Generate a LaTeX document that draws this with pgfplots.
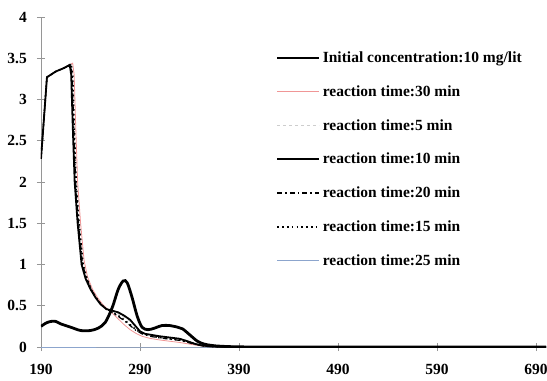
\documentclass[border=0pt]{standalone}
\usepackage{fontspec}
\setmainfont{Liberation Serif}
\usepackage{pgfplots}
\pgfplotsset{compat=1.18}
\definecolor{pinkline}{RGB}{240,150,150}
\definecolor{lightline}{RGB}{205,205,205}
\definecolor{blueline}{RGB}{140,165,205}
\definecolor{axgray}{RGB}{150,150,150}
\begin{document}
\begin{tikzpicture}
\begin{axis}[name=ax, scale only axis, width=505pt, height=330pt,
  xmin=190, xmax=700, ymin=0, ymax=4,
  xtick={190,290,390,490,590,690},
  ytick={0,0.5,1,1.5,2,2.5,3,3.5,4},
  yticklabels={0,0.5,1,1.5,2,2.5,3,3.5,4},
  axis x line=bottom, axis y line=left,
  axis line style={axgray, line width=0.8pt, -},
  tick align=center, major tick length=8pt,
  tick style={axgray, line width=0.8pt},
  /pgf/number format/assume math mode=true,
  ticklabel style={font=\fontsize{15.5}{18}\selectfont\bfseries},
  yticklabel style={inner sep=0pt, xshift=-10pt},
  xticklabel style={inner sep=0pt, text depth=0pt, yshift=-13pt},
  legend image code/.code={\draw[#1] (0pt,0pt) -- (42pt,0pt);},
  legend cell align=left,
  legend style={at={(0.465,0.898)}, anchor=north west, draw=none, fill=none,
    inner sep=0pt, row sep=19.5pt,
    font=\fontsize{15.5}{18}\selectfont\bfseries,
    nodes={inner xsep=2pt, inner ysep=1pt}},
]
\addlegendimage{black, line width=2.8pt}
\addlegendentry{Initial concentration:10 mg/lit}
\addlegendimage{pinkline, line width=0.8pt}
\addlegendentry{reaction time:30 min}
\addlegendimage{lightline, line width=0.8pt, dashed}
\addlegendentry{reaction time:5 min}
\addlegendimage{black, line width=1.8pt}
\addlegendentry{reaction time:10 min}
\addlegendimage{black, line width=1.2pt, dash pattern=on 5pt off 3pt on 1.5pt off 3pt}
\addlegendentry{reaction time:20 min}
\addlegendimage{black, line width=1.6pt, dash pattern=on 1.6pt off 3.2pt}
\addlegendentry{reaction time:15 min}
\addlegendimage{blueline, line width=1pt}
\addlegendentry{reaction time:25 min}

% 25 min
\addplot[forget plot, blueline, line width=1pt] coordinates {
(190,0) (300,0) (400,0) (700,0)};
% 5 min
\addplot[forget plot, lightline, line width=0.8pt, dashed] coordinates {
(190,2.28) (196,3.27) (205,3.34) (213,3.38) (219.5,3.42) (221,3.3) (222.5,2.7)
(224.5,2.0) (227.5,1.5) (231.5,1.0) (235.5,0.83) (240,0.70) (245,0.60) (250,0.52)
(256,0.46) (262,0.43) (268,0.40) (274,0.36) (280,0.31) (286,0.24) (292,0.18)
(300,0.145) (310,0.125) (320,0.11) (330,0.095) (338,0.065) (345,0.035) (352,0.018)
(360,0.007) (375,0.002) (400,0) (700,0)};
% 30 min
\addplot[forget plot, pinkline, line width=0.8pt] coordinates {
(190,2.28) (196,3.27) (205,3.34) (214,3.39) (222,3.44) (223.5,3.3) (225,2.7)
(227,2.0) (230,1.5) (233.5,1.05) (237,0.85) (242,0.70) (247,0.60) (252,0.52)
(257,0.46) (262,0.41) (268,0.34) (274,0.27) (280,0.21) (286,0.165) (292,0.13)
(300,0.105) (310,0.085) (320,0.07) (330,0.055) (340,0.035) (350,0.016) (360,0.005)
(380,0) (700,0)};
% 20 min
\addplot[forget plot, black, line width=1.2pt, dash pattern=on 5pt off 3pt on 1.5pt off 3pt] coordinates {
(190,2.28) (196,3.27) (205,3.34) (213,3.38) (220,3.42) (221.5,3.3) (223,2.7)
(225,2.0) (228,1.5) (232,1.0) (236,0.83) (241,0.69) (246,0.59) (251,0.51)
(256,0.46) (262,0.42) (268,0.37) (274,0.32) (280,0.26) (286,0.20) (292,0.16)
(300,0.13) (310,0.11) (320,0.095) (330,0.08) (340,0.05) (348,0.025) (356,0.01)
(370,0.002) (400,0) (700,0)};
% 15 min
\addplot[forget plot, black, line width=1.6pt, dash pattern=on 1.6pt off 3.2pt] coordinates {
(190,2.28) (196,3.27) (205,3.34) (213,3.38) (220.5,3.42) (222,3.3) (223.5,2.7)
(225.5,2.0) (228.5,1.5) (232.5,1.0) (236.5,0.83) (241,0.69) (246,0.59) (251,0.51)
(256,0.46) (262,0.42) (268,0.38) (274,0.33) (280,0.27) (286,0.21) (292,0.165)
(300,0.135) (310,0.115) (320,0.10) (330,0.085) (340,0.055) (348,0.028) (356,0.011)
(370,0.002) (400,0) (700,0)};
% 10 min
\addplot[forget plot, black, line width=1.8pt] coordinates {
(190,2.28) (196,3.27) (205,3.34) (213,3.38) (219,3.42) (220.5,3.3) (222,2.7)
(224,2.0) (227,1.5) (231,1.0) (235,0.83) (240,0.70) (245,0.60) (250,0.52)
(256,0.46) (262,0.44) (268,0.42) (274,0.38) (280,0.33) (285,0.26) (290,0.19)
(295,0.16) (300,0.15) (310,0.13) (320,0.115) (330,0.10) (338,0.07) (345,0.04)
(352,0.02) (360,0.008) (375,0.002) (400,0) (700,0)};
% initial concentration
\addplot[forget plot, black, line width=2.8pt, smooth, tension=0.5] coordinates {
(190,0.25) (195,0.29) (200,0.31) (205,0.31) (210,0.28) (220,0.24) (230,0.20)
(240,0.20) (248,0.23) (255,0.30) (262,0.48) (268,0.70) (273,0.80) (277,0.78)
(282,0.60) (287,0.38) (292,0.24) (298,0.21) (305,0.23) (312,0.26) (320,0.26)
(328,0.24) (333,0.22) (340,0.15) (348,0.07) (355,0.035) (365,0.015) (380,0.005)
(400,0.001) (500,0) (700,0)};
\end{axis}
\pgfresetboundingbox
\path ([shift={(-41pt,-33pt)}]ax.south west) rectangle ([shift={(1pt,17pt)}]ax.north east);
\end{tikzpicture}
\end{document}
